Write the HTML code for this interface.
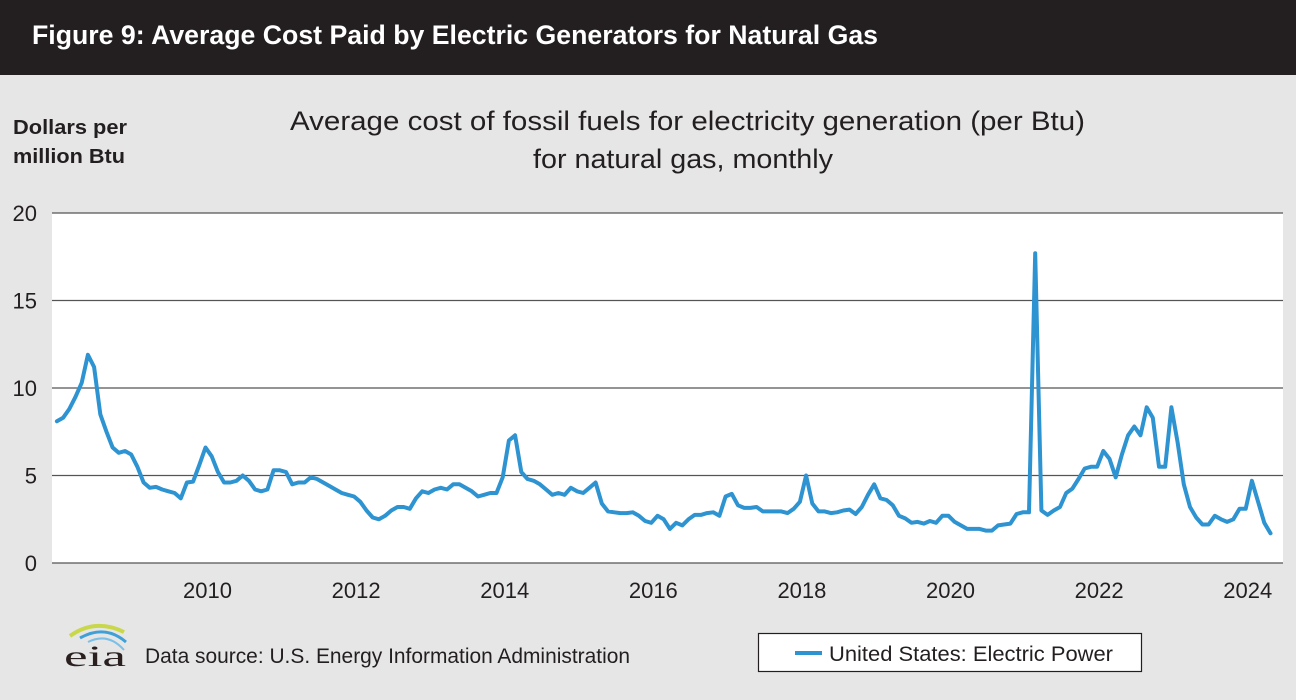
<!DOCTYPE html>
<html><head><meta charset="utf-8">
<style>
html,body{margin:0;padding:0;background:#e6e6e6;}
svg{display:block;}
text{font-family:"Liberation Sans Narrow","Liberation Sans",sans-serif;}
</style></head>
<body>
<svg id="chart" width="1296" height="700" viewBox="0 0 1296 700" xmlns="http://www.w3.org/2000/svg">
  <rect x="0" y="0" width="1296" height="700" fill="#e6e6e6"/>
  <rect x="0" y="0" width="1296" height="75" fill="#231f20"/>
  <text x="32" y="44" fill="#fff" font-size="27" font-weight="bold" textLength="846" lengthAdjust="spacingAndGlyphs">Figure 9: Average Cost Paid by Electric Generators for Natural Gas</text>
  <text x="13" y="134" fill="#231f20" font-size="20" font-weight="bold" textLength="114" lengthAdjust="spacingAndGlyphs">Dollars per</text>
  <text x="13" y="163" fill="#231f20" font-size="20" font-weight="bold" textLength="112" lengthAdjust="spacingAndGlyphs">million Btu</text>
  <text x="290" y="130" fill="#231f20" font-size="27" textLength="795" lengthAdjust="spacingAndGlyphs">Average cost of fossil fuels for electricity generation (per Btu)</text>
  <text x="533" y="168" fill="#231f20" font-size="27" textLength="300" lengthAdjust="spacingAndGlyphs">for natural gas, monthly</text>
  <rect x="52" y="213" width="1231" height="350" fill="#fff"/>
  <g id="grid"></g>
  <g id="yticks"></g>
  <g id="xticks"></g>
  <path id="series" fill="none" stroke="#2e93d1" stroke-width="4" stroke-linejoin="round" stroke-linecap="round"/>
  <g>
    <path d="M70 636 Q95 618 124 632" stroke="#c8d84a" stroke-width="4" fill="none"/>
    <path d="M80 638 Q105 624 126 642" stroke="#3fa0d8" stroke-width="3" fill="none"/>
    <path d="M88 642 Q108 632 124 650" stroke="#7cc0e8" stroke-width="2" fill="none"/>
    <text x="64" y="666" style="font-family:'Liberation Serif',serif" font-size="30" fill="#2a2020" textLength="62" lengthAdjust="spacingAndGlyphs">eia</text>
  </g>
  <text x="145" y="663" fill="#231f20" font-size="21" textLength="485" lengthAdjust="spacingAndGlyphs">Data source: U.S. Energy Information Administration</text>
  <g>
    <rect x="758.5" y="633.5" width="383" height="38" fill="#fff" stroke="#231f20" stroke-width="1.2"/>
    <line x1="795" y1="653" x2="822" y2="653" stroke="#2e93d1" stroke-width="4"/>
    <text x="829" y="661" fill="#231f20" font-size="21" textLength="284" lengthAdjust="spacingAndGlyphs">United States: Electric Power</text>
  </g>
</svg>
<script>
const startYear = 2008;
const yTicks = [0, 5, 10, 15, 20];
const xTickYears = [2010, 2012, 2014, 2016, 2018, 2020, 2022, 2024];
const values2008 = [8.1,8.3,8.8,9.5,10.3,11.9,11.2,8.5,7.5,6.6,6.3,6.4];
const values2009 = [6.2,5.5,4.6,4.3,4.35,4.2,4.1,4.0,3.7,4.6,4.65,5.6];
const values2010 = [6.6,6.1,5.2,4.6,4.6,4.7,5.0,4.7,4.2,4.1,4.2,5.3];
const values2011 = [5.3,5.2,4.5,4.6,4.6,4.9,4.8,4.6,4.4,4.2,4.0,3.9];
const values2012 = [3.8,3.5,3.0,2.6,2.5,2.7,3.0,3.2,3.2,3.1,3.7,4.1];
const values2013 = [4.0,4.2,4.3,4.2,4.5,4.5,4.3,4.1,3.8,3.9,4.0,4.0];
const values2014 = [4.9,7.0,7.3,5.2,4.8,4.7,4.5,4.2,3.9,4.0,3.9,4.3];
const values2015 = [4.1,4.0,4.3,4.6,3.4,2.95,2.9,2.85,2.85,2.9,2.7,2.4];
const values2016 = [2.3,2.7,2.5,1.95,2.3,2.15,2.5,2.75,2.75,2.85,2.9,2.7];
const values2017 = [3.8,3.95,3.3,3.15,3.15,3.2,2.95,2.95,2.95,2.95,2.85,3.1];
const values2018 = [3.5,5.0,3.4,2.95,2.95,2.85,2.9,3.0,3.05,2.8,3.2,3.9];
const values2019 = [4.5,3.7,3.6,3.3,2.7,2.55,2.3,2.35,2.25,2.4,2.3,2.7];
const values2020 = [2.7,2.35,2.15,1.95,1.95,1.95,1.85,1.85,2.15,2.2,2.25,2.8];
const values2021 = [2.9,2.9,17.7,3.0,2.75,3.0,3.2,4.0,4.25,4.8,5.4,5.5];
const values2022 = [5.5,6.4,5.95,4.9,6.2,7.3,7.8,7.3,8.9,8.3,5.5,5.5];
const values2023 = [8.9,6.9,4.5,3.2,2.6,2.2,2.2,2.7,2.5,2.35,2.5,3.1];
const values2024 = [3.1,4.7,3.5,2.3,1.7];
const seriesValues = [].concat(values2008,values2009,values2010,values2011,values2012,values2013,values2014,values2015,values2016,values2017,values2018,values2019,values2020,values2021,values2022,values2023,values2024);

const NS = "http://www.w3.org/2000/svg";
const plotLeft = 52, plotRight = 1283, plotTop = 213, plotBottom = 563;
const yMax = 20;
function yScale(v){ return plotBottom - v/yMax*(plotBottom-plotTop); }
const pxPerYear = 74.3, x2010 = 208;
function xScale(yearFrac){ return x2010 + (yearFrac-2010)*pxPerYear - pxPerYear/12*0.4; }

const grid = document.getElementById('grid');
const yt = document.getElementById('yticks');
yTicks.forEach(function(t){
  const y = yScale(t);
  const l = document.createElementNS(NS,'line');
  l.setAttribute('x1',plotLeft); l.setAttribute('x2',plotRight);
  l.setAttribute('y1',y); l.setAttribute('y2',y);
  l.setAttribute('stroke','#555'); l.setAttribute('stroke-width','1.3');
  
  
  grid.appendChild(l);
  const tx = document.createElementNS(NS,'text');
  tx.setAttribute('x',37); tx.setAttribute('y',y+8);
  tx.setAttribute('text-anchor','end'); tx.setAttribute('font-size','22'); tx.setAttribute('fill','#231f20');
  tx.textContent = t;
  
  
  yt.appendChild(tx);
});
const xt = document.getElementById('xticks');
xTickYears.forEach(function(yr){
  const tx = document.createElementNS(NS,'text');
  tx.setAttribute('x', xScale(yr) + 2); tx.setAttribute('y', 598);
  tx.setAttribute('text-anchor','middle'); tx.setAttribute('font-size','22'); tx.setAttribute('fill','#231f20');
  tx.textContent = yr;
  
  
  xt.appendChild(tx);
});
let d = '';
seriesValues.forEach(function(v,i){
  const x = xScale(startYear + i/12);
  d += (i ? 'L' : 'M') + x.toFixed(1) + ' ' + yScale(v).toFixed(1);
});
document.getElementById('series').setAttribute('d', d);
</script>
</body></html>
